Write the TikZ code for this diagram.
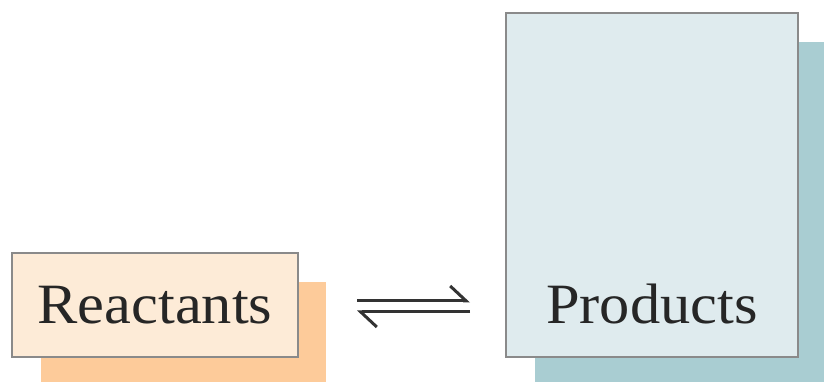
\documentclass[tikz,border=0pt]{standalone}
\usepackage{fontspec}
\usepackage{tikz}
\usetikzlibrary{calc,positioning,arrows.meta,backgrounds}
\newfontfamily\labelfont[FakeStretch=1.06]{Liberation Serif}
\definecolor{colorre}{HTML}{FDEBD7}
\definecolor{colorrs}{HTML}{FDCB9A}
\definecolor{colorpr}{HTML}{DFEBEE}
\definecolor{colorps}{HTML}{A9CDD2}
\definecolor{colorbd}{HTML}{8A8A8A}
\definecolor{colorar}{HTML}{333333}
\tikzset{
  boxre/.style={draw=colorbd, line width=1.5pt, fill=colorre, inner sep=0pt},
  boxpr/.style={draw=colorbd, line width=1.5pt, fill=colorpr, inner sep=0pt},
  eqarrow/.style={colorar, line width=3pt, -{Straight Barb[left,length=16pt,width=30pt]}}
}
\newcommand\bigtext{\labelfont\fontsize{57}{62}\selectfont\color{black!85}}

\begin{document}
\begin{tikzpicture}[x=1pt, y=1pt]
\clip (0,0) rectangle (824,382);
\node[boxre, minimum width=286pt, minimum height=104pt] (reac) at (155,77) {};
\node[anchor=base, inner sep=0pt] (reactxt) at ([yshift=34pt]reac.south) {\bigtext Reactants};
\node[boxpr, minimum width=292pt, minimum height=344pt] (prod) at (652,197) {};
\node[anchor=base, inner sep=0pt] (prodtxt) at ([yshift=34pt]prod.south) {\bigtext Products};
% shadows behind the boxes
\begin{scope}[on background layer]
\fill[colorrs] ($(reac.south west)+(30,-30)$) rectangle ($(reac.north east)+(27,-30)$);
\fill[colorps] ($(prod.south west)+(30,-30)$) rectangle ($(prod.north east)+(30,-30)$);
\end{scope}
\coordinate (eql) at (357,75.5);
\coordinate (eqr) at (470,75.5);
\draw[eqarrow] ([yshift=5.5pt]eql) -- ([yshift=5.5pt]eqr);
\draw[eqarrow] ([yshift=-5.5pt]eqr) -- ([yshift=-5.5pt]eql);
\end{tikzpicture}
\end{document}
